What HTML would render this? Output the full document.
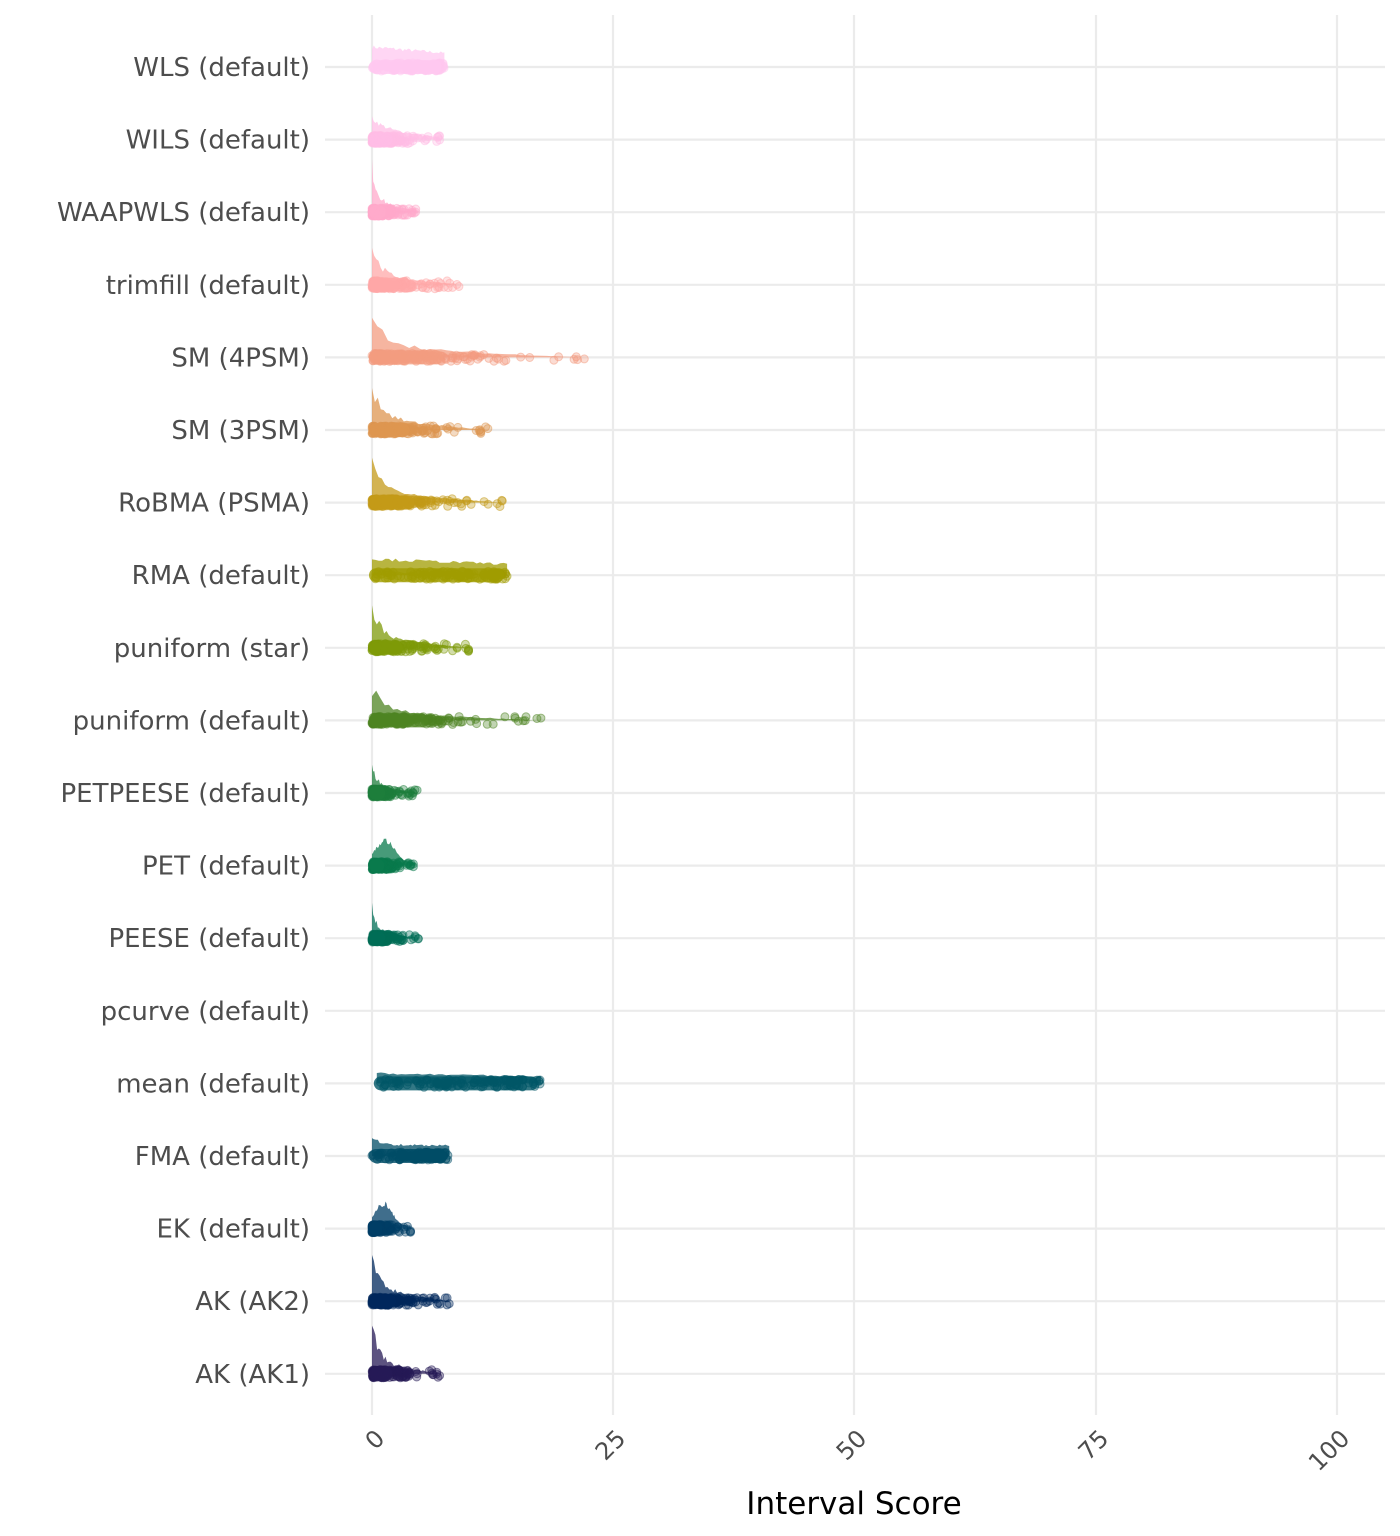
<!DOCTYPE html>
<html><head><meta charset="utf-8"><style>
html,body{margin:0;padding:0;background:#fff;}
svg{display:block;font-family:"DejaVu Sans","Liberation Sans",sans-serif;}
</style></head><body>
<svg id="s" width="1400" height="1536" xmlns="http://www.w3.org/2000/svg">
<g id="grid" stroke="#ebebeb" stroke-width="2.2"></g>
<g id="data"></g>
<g id="lab" font-size="26" fill="#4d4d4d" text-anchor="end"></g>
<g font-size="24" fill="#4d4d4d" text-anchor="end">
<text transform="translate(386,1440) rotate(-45)">0</text>
<text transform="translate(627,1440) rotate(-45)">25</text>
<text transform="translate(868,1440) rotate(-45)">50</text>
<text transform="translate(1110,1440) rotate(-45)">75</text>
<text transform="translate(1351,1440) rotate(-45)">100</text>
</g>
<text x="854" y="1514" font-size="31" fill="#000" text-anchor="middle">Interval Score</text>
</svg>
<script>
var rows=[
["WLS (default)","#FFC8F0",7.5,"flat",20],
["WILS (default)","#FFBDE6",7,"dec",22],
["WAAPWLS (default)","#FFAACB",5,"peak",45],
["trimfill (default)","#FFA8A8",9,"peak",38],
["SM (4PSM)","#F39C80",22,"peak",35],
["SM (3PSM)","#DE9650",12,"peak",42],
["RoBMA (PSMA)","#C49A18",13.5,"peak",38],
["RMA (default)","#A09C00",14,"flat",16],
["puniform (star)","#7E9A08",10,"peak",40],
["puniform (default)","#4E8422",17.5,"peak",30],
["PETPEESE (default)","#1E7E3C",4.8,"peak",30],
["PET (default)","#0A7A4C",4.5,"bump",22],
["PEESE (default)","#006E56",4.8,"peak",30],
["pcurve (default)","#000",0,"none",0],
["mean (default)","#005666",17.5,"mean",10],
["FMA (default)","#004C66",8,"fmab",18],
["EK (default)","#003E66",4,"bump",22],
["AK (AK2)","#00285C",8,"peak",48],
["AK (AK1)","#261A56",7,"peak",48]];
var seed=7;function r(){seed=(seed*16807)%2147483647;return seed/2147483647;}
var X=function(v){return 372+v*9.65;};
var g=document.getElementById('grid'),d=document.getElementById('data'),l=document.getElementById('lab');
var h='';
[372,613,854,1096,1337].forEach(function(x){h+='<line x1="'+x+'" y1="15" x2="'+x+'" y2="1415"/>';});
var dh='',lh='';
rows.forEach(function(w,i){
 var y=67+i*72.6;
 h+='<line x1="325" y1="'+y+'" x2="1385" y2="'+y+'"/>';
 lh+='<text x="310" y="'+(y+9)+'">'+w[0]+'</text>';
 if(w[3]=="none")return;
 var m=w[2],c=w[1],H=w[4],st=(w[3]=="mean")?0.5:0;
 var pts=[];var N=40;
 for(var k=0;k<=N;k++){var v=st+(m-st)*k/N,t=k/N,hh;
  if(w[3]=="peak")hh=H*(Math.exp(-t*10)*0.75+0.25*(1-t))*(0.8+0.4*r());
  else if(w[3]=="dec")hh=H*(0.5*Math.exp(-t*6)+0.5*(1-t*0.8))*(0.85+0.3*r());
  else if(w[3]=="bump")hh=H*Math.exp(-Math.pow((t-0.3)/0.3,2))*(0.85+0.3*r())+3;
  else if(w[3]=="fmab")hh=H*(0.6+0.4*Math.exp(-t*8))*(0.9+0.2*r());
  else hh=H*(0.7+0.3*(1-t))*(0.9+0.2*r());
  pts.push(X(v).toFixed(1)+','+(y-hh).toFixed(1));}
 dh+='<polygon fill="'+c+'" fill-opacity="0.75" points="'+X(st)+','+y+' '+pts.join(' ')+' '+X(m)+','+y+'"/>';
 var flat=(w[3]=="flat"||w[3]=="mean"||w[3]=="fmab");
 for(var k=0;k<(flat?140:220);k++){var v;
  if(flat)v=st+(m-st)*Math.pow(r(),0.8);else v=Math.min(m,-Math.log(1-r()*0.999)*m/5);
  if(k<4)v=m*(0.8+0.2*r());
  dh+='<circle cx="'+X(v).toFixed(1)+'" cy="'+(y+(r()-0.5)*8).toFixed(1)+'" r="4" fill="'+c+'" fill-opacity="0.35" stroke="'+c+'" stroke-opacity="0.5" stroke-width="1"/>';}
 dh+='<rect x="'+(X(st)-3)+'" y="'+(y-7)+'" width="'+(flat?(X(m)-X(st)):Math.max(12,m*0.35*9.65))+'" height="14" rx="7" fill="'+c+'" fill-opacity="0.8"/>';
});
g.innerHTML=h;d.innerHTML=dh;l.innerHTML=lh;
</script>
</body></html>
